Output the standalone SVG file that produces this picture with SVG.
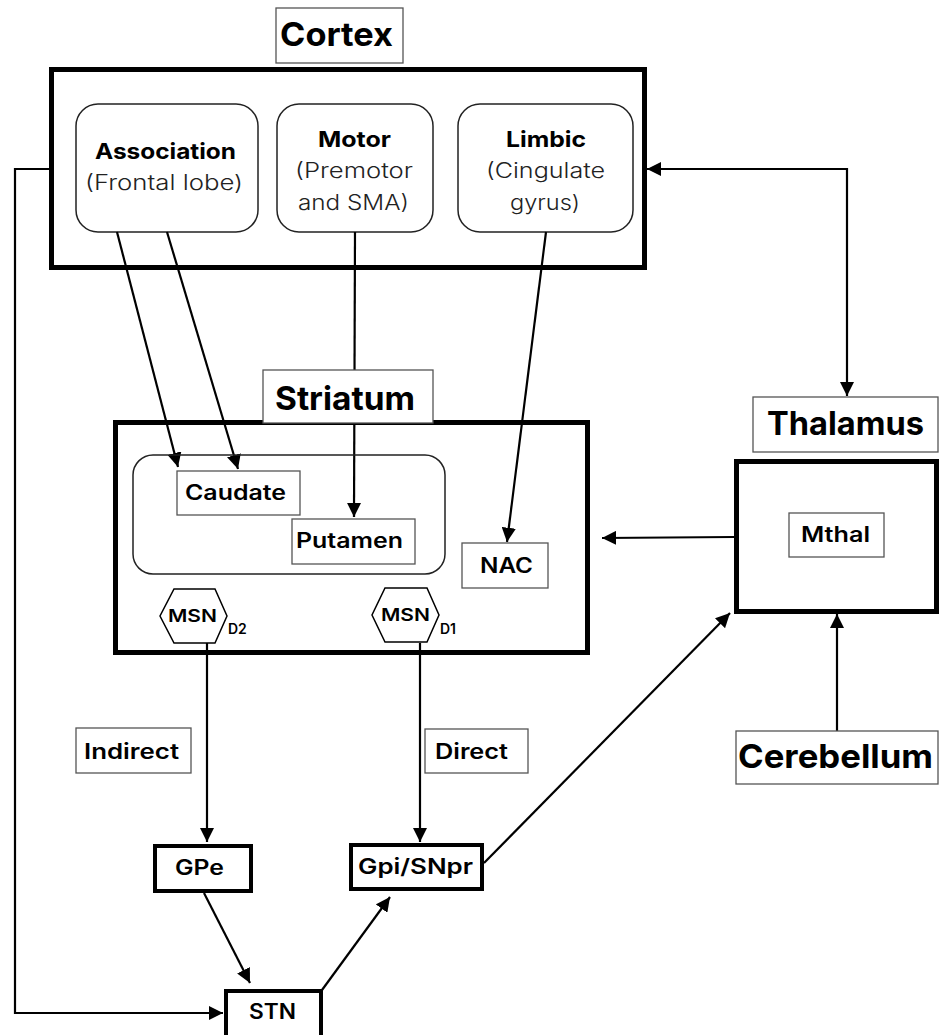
<svg xmlns="http://www.w3.org/2000/svg" width="940" height="1035" viewBox="0 0 940 1035">
<defs>
<style>
.bg{fill:#fff}
.big{fill:none;stroke:#000;stroke-width:5}
.mid{fill:#fff;stroke:#000;stroke-width:4}
.lbl{fill:#fff;stroke:#555;stroke-width:1.3}
.rnd{fill:#fff;stroke:#222;stroke-width:1.5}
.rnd2{fill:none;stroke:#222;stroke-width:1.5}
.edge{fill:none;stroke:#000;stroke-width:2.2}
text{font-family:Inter,"Liberation Sans",sans-serif;fill:#000;text-anchor:middle}
.t1{font-size:33px;font-weight:700}
.t2{font-size:22px;font-weight:700}
.t3{font-size:21px;font-weight:300;fill:#222}
.t4{font-size:21px;font-weight:600}
.t5{font-size:17px;font-weight:600}
.sub{font-size:14px;font-weight:600;text-anchor:start}
</style>
<marker id="ah" viewBox="0 0 10 10" refX="10" refY="5" markerWidth="6.5" markerHeight="6.5" orient="auto-start-reverse" markerUnits="strokeWidth">
<path d="M0,0 L10,5 L0,10 z" fill="#000"/>
</marker>
</defs>
<rect class="bg" width="940" height="1035"/>

<g id="cortex">
<rect class="lbl" x="276" y="8" width="127" height="55"/>
<text class="t1" x="336.5" y="46" textLength="113" lengthAdjust="spacingAndGlyphs">Cortex</text>
<rect class="big" x="51.5" y="69.5" width="593" height="198"/>
</g>
<g id="association">
<rect class="rnd" x="76" y="104" width="182" height="128" rx="22"/>
<text class="t2" x="165.5" y="159" textLength="141" lengthAdjust="spacingAndGlyphs">Association</text>
<text class="t3" x="164" y="190" textLength="158" lengthAdjust="spacingAndGlyphs">(Frontal lobe)</text>
</g>
<g id="motor">
<rect class="rnd" x="277" y="104" width="156" height="128" rx="22"/>
<text class="t2" x="354.5" y="147" textLength="73" lengthAdjust="spacingAndGlyphs">Motor</text>
<text class="t3" x="354" y="178" textLength="118" lengthAdjust="spacingAndGlyphs">(Premotor</text>
<text class="t3" x="353.5" y="210" textLength="111" lengthAdjust="spacingAndGlyphs">and SMA)</text>
</g>
<g id="limbic">
<rect class="rnd" x="458" y="104" width="175" height="128" rx="22"/>
<text class="t2" x="546" y="147" textLength="80" lengthAdjust="spacingAndGlyphs">Limbic</text>
<text class="t3" x="545.5" y="178" textLength="119" lengthAdjust="spacingAndGlyphs">(Cingulate</text>
<text class="t3" x="545" y="210" textLength="70" lengthAdjust="spacingAndGlyphs">gyrus)</text>
</g>

<g id="connectors">
<path class="edge" d="M117,232 L178,467" marker-end="url(#ah)"/>
<path class="edge" d="M167,232 L238,469" marker-end="url(#ah)"/>
<path class="edge" d="M355,232 L354,517" marker-end="url(#ah)"/>
<path class="edge" d="M546,232 L507,542" marker-end="url(#ah)"/>
<path class="edge" d="M49,169 L15,169 L15,1013 L223,1013" marker-end="url(#ah)"/>
<path class="edge" d="M647,169 L847,169 L847,396" marker-start="url(#ah)" marker-end="url(#ah)"/>
<path class="edge" d="M734,537 L602,538" marker-end="url(#ah)"/>
<path class="edge" d="M837,731 L837,614" marker-end="url(#ah)"/>
<path class="edge" d="M207,643 L207,842" marker-end="url(#ah)"/>
<path class="edge" d="M420,643 L420,842" marker-end="url(#ah)"/>
<path class="edge" d="M484,863 L730,613" marker-end="url(#ah)"/>
<path class="edge" d="M204,893 L250,983" marker-end="url(#ah)"/>
<path class="edge" d="M322,990 L390,897" marker-end="url(#ah)"/>
</g>

<g id="striatum">
<rect class="big" x="115.5" y="422.5" width="472" height="230"/>
<rect class="lbl" x="263" y="370" width="170" height="53"/>
<text class="t1" x="345" y="410" textLength="140" lengthAdjust="spacingAndGlyphs">Striatum</text>
<rect class="rnd2" x="133" y="455" width="312" height="119" rx="20"/>
</g>
<g id="caudate">
<rect class="lbl" x="177" y="471" width="123" height="44"/>
<text class="t4" x="235.5" y="500" textLength="101" lengthAdjust="spacingAndGlyphs">Caudate</text>
</g>
<g id="putamen">
<rect class="lbl" x="292" y="519" width="123" height="45"/>
<text class="t4" x="349.5" y="548" textLength="107" lengthAdjust="spacingAndGlyphs">Putamen</text>
</g>
<g id="nac">
<rect class="lbl" x="462" y="543" width="86" height="45"/>
<text class="t4" x="506.5" y="573" textLength="53" lengthAdjust="spacingAndGlyphs">NAC</text>
</g>
<g id="msn-d2">
<polygon points="174,589 215,589 227,616 215,643 174,643 160,616" fill="#fff" stroke="#000" stroke-width="1.5"/>
<text class="t5" x="192.5" y="622" textLength="49" lengthAdjust="spacingAndGlyphs">MSN</text>
<text class="sub" x="228" y="634">D2</text>
</g>
<g id="msn-d1">
<polygon points="385,588 427,588 439,615 427,642 385,642 372,615" fill="#fff" stroke="#000" stroke-width="1.5"/>
<text class="t5" x="405.5" y="621" textLength="49" lengthAdjust="spacingAndGlyphs">MSN</text>
<text class="sub" x="440" y="634">D1</text>
</g>

<g id="thalamus">
<rect class="lbl" x="753" y="397" width="185" height="55"/>
<text class="t1" x="845.5" y="435" textLength="157" lengthAdjust="spacingAndGlyphs">Thalamus</text>
<rect class="big" x="736.5" y="461.5" width="200" height="150"/>
</g>
<g id="mthal">
<rect class="lbl" x="789" y="513" width="95" height="44"/>
<text class="t4" x="835.5" y="542" textLength="69" lengthAdjust="spacingAndGlyphs">Mthal</text>
</g>
<g id="cerebellum">
<rect class="lbl" x="736" y="731" width="202" height="53"/>
<text class="t1" x="835.5" y="768" textLength="195" lengthAdjust="spacingAndGlyphs">Cerebellum</text>
</g>

<g id="indirect">
<rect class="lbl" x="76" y="728" width="115" height="45"/>
<text class="t4" x="131.5" y="759" textLength="95" lengthAdjust="spacingAndGlyphs">Indirect</text>
</g>
<g id="direct">
<rect class="lbl" x="425" y="729" width="103" height="44"/>
<text class="t4" x="471.5" y="759" textLength="73" lengthAdjust="spacingAndGlyphs">Direct</text>
</g>
<g id="gpe">
<rect class="mid" x="155" y="846" width="96" height="45"/>
<text class="t4" x="199.5" y="875" textLength="49" lengthAdjust="spacingAndGlyphs">GPe</text>
</g>
<g id="gpi">
<rect class="mid" x="351" y="845" width="131" height="44"/>
<text class="t4" x="415.5" y="874" textLength="115" lengthAdjust="spacingAndGlyphs">Gpi/SNpr</text>
</g>
<g id="stn">
<rect class="mid" x="226" y="991" width="95" height="50"/>
<text class="t4" x="272.5" y="1019" textLength="47" lengthAdjust="spacingAndGlyphs">STN</text>
</g>
</svg>
